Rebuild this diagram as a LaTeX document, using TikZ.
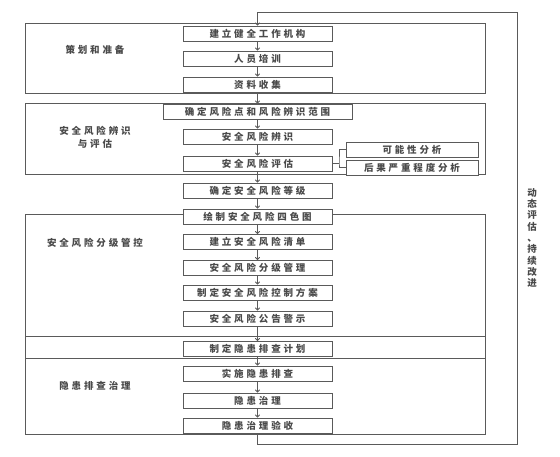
\documentclass[tikz,border=0pt]{standalone}
\usepackage{fontspec}
\setmainfont{Noto Sans CJK SC}
\newfontfamily\cjk[LetterSpace=30]{Noto Sans CJK SC}
\usetikzlibrary{arrows.meta}
\definecolor{ln}{HTML}{5A5A5A}
\definecolor{tx}{HTML}{4A4A4A}
\begin{document}
\begin{tikzpicture}[x=1pt,y=-1pt,
  box/.style={draw=ln, line width=0.9pt, fill=white, minimum width=149pt, minimum height=15pt, inner sep=0pt, text=tx, font=\cjk\bfseries\fontsize{9.5}{10}\selectfont},
  widebox/.style={box, minimum width=189pt},
  sidebox/.style={box, minimum width=132pt},
  grp/.style={draw=ln, line width=0.9pt},
  lbl/.style={text=tx, font=\cjk\bfseries\fontsize{9.5}{13}\selectfont, align=center, inner sep=0pt},
  arr/.style={draw=ln, line width=0.9pt, -{To[length=3pt,width=5pt]}},
  con/.style={draw=ln, line width=0.9pt}]
\useasboundingbox (0,0) rectangle (560,456);
\fill[white] (0,0) rectangle (560,456);
% groups
\draw[grp] (25,23) rectangle (485,93);
\draw[grp] (25,103) rectangle (485,174);
\draw[grp] (25,214) rectangle (485,336);
\draw[grp] (25,336) rectangle (485,358);
\draw[grp] (25,358) rectangle (485,434);
% group labels
\node[lbl] (g1) at (95,50) {策划和准备};
\node[lbl] (g2) at (95,137) {安全风险辨识\\与评估};
\node[lbl] (g3) at (95,243) {安全风险分级管控};
\node[lbl] (g5) at (95,386) {隐患排查治理};
% boxes
\node[box] (b1) at (257.5,33.5) {建立健全工作机构};
\node[box] (b2) at (257.5,58.5) {人员培训};
\node[box] (b3) at (257.5,84.5) {资料收集};
\node[widebox] (b4) at (257.5,111.5) {确定风险点和风险辨识范围};
\node[box] (b5) at (257.5,136.5) {安全风险辨识};
\node[box] (b6) at (257.5,163.5) {安全风险评估};
\node[sidebox] (s1) at (412,149.5) {可能性分析};
\node[sidebox] (s2) at (412,167.5) {后果严重程度分析};
\node[box] (b7) at (257.5,190.5) {确定安全风险等级};
\node[box] (b8) at (257.5,216.5) {绘制安全风险四色图};
\node[box] (b9) at (257.5,242) {建立安全风险清单};
\node[box] (b10) at (257.5,268) {安全风险分级管理};
\node[box] (b11) at (257.5,292.5) {制定安全风险控制方案};
\node[box] (b12) at (257.5,318.5) {安全风险公告警示};
\node[box] (b13) at (257.5,349) {制定隐患排查计划};
\node[box] (b14) at (257.5,373.5) {实施隐患排查};
\node[box] (b15) at (257.5,400.5) {隐患治理};
\node[box] (b16) at (257.5,425.5) {隐患治理验收};
% arrows
\foreach \a/\b in {b1/b2,b2/b3,b3/b4,b4/b5,b5/b6,b6/b7,b7/b8,b8/b9,b9/b10,b10/b11,b11/b12,b12/b13,b13/b14,b14/b15,b15/b16}
  \draw[arr] (\a.south) -- (\b.north);
% bracket
\coordinate (bk) at (339,163.5);
\draw[con] (b6.east) -- (bk);
\draw[con] (s1.west) -| (bk) |- (s2.west);
% feedback loop
\coordinate (l1) at (257.5,444);
\coordinate (l2) at (517,444);
\coordinate (l3) at (517,12);
\coordinate (l4) at (257.5,12);
\draw[con] (b16.south) -- (l1) -- (l2) -- (l3) -- (l4);
\draw[arr] (l4) -- (b1.north);
% side label
\node[lbl, font=\bfseries\fontsize{9.5}{11.3}\selectfont] (side) at (532,238) {动\\态\\评\\估\\、\\持\\续\\改\\进};
\end{tikzpicture}
\end{document}
